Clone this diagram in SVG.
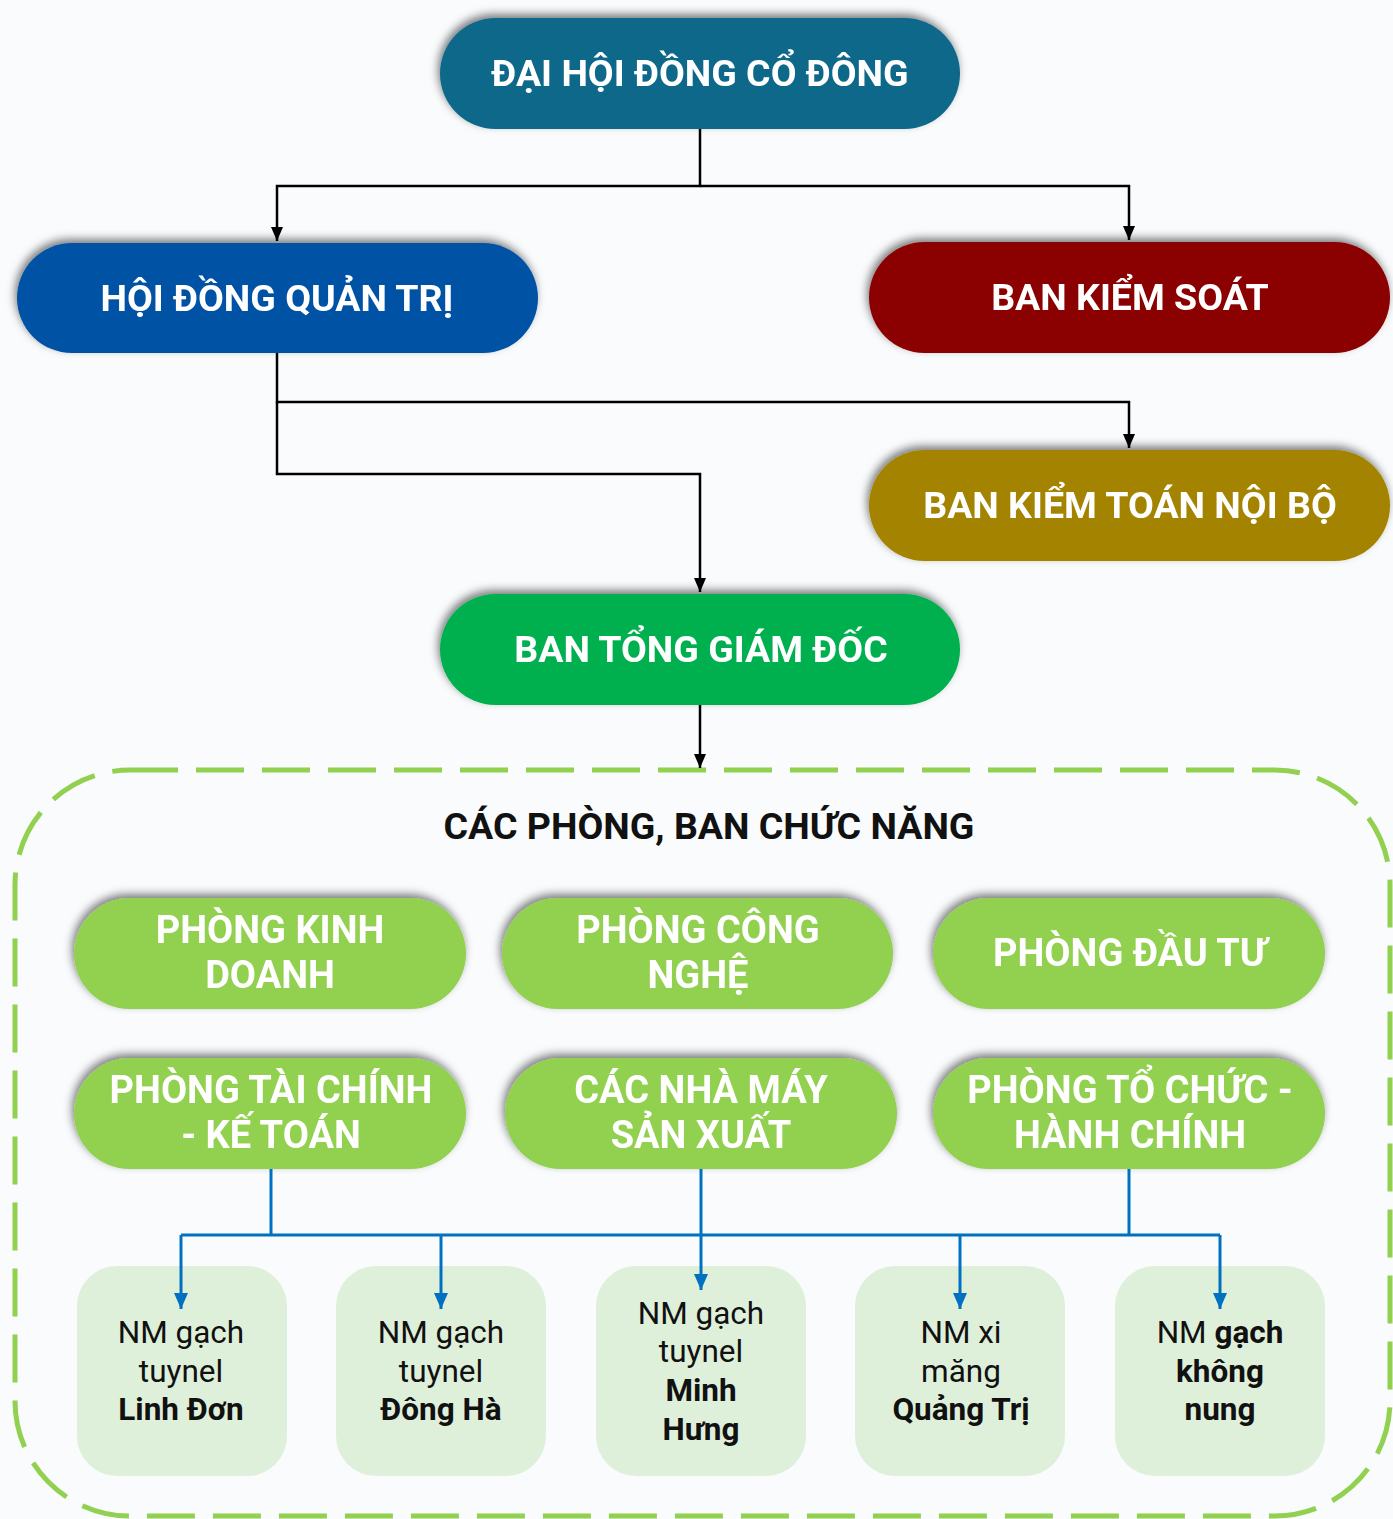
<svg xmlns="http://www.w3.org/2000/svg" width="1393" height="1519" viewBox="0 0 1393 1519">
<defs>
<filter id="sh" x="-10%" y="-30%" width="120%" height="160%">
<feDropShadow dx="-2" dy="-4" stdDeviation="4" flood-color="#000" flood-opacity="0.5"/>
</filter>
<marker id="ab" markerWidth="14" markerHeight="12" refX="14" refY="6" orient="auto" markerUnits="userSpaceOnUse" viewBox="0 0 14 12">
<path d="M0,0 L14,6 L0,12 Z" fill="#000"/>
</marker>
<marker id="ablue" markerWidth="16" markerHeight="14" refX="16" refY="7" orient="auto" markerUnits="userSpaceOnUse" viewBox="0 0 16 14">
<path d="M0,0 L16,7 L0,14 Z" fill="#0070c0"/>
</marker>
</defs>
<style>
.t{font-family:Roboto,"Liberation Sans",sans-serif;font-weight:700;fill:#fff;text-anchor:middle;}
.big{font-size:37.5px;}
.mid{font-size:38px;}
.s{font-family:Roboto,"Liberation Sans",sans-serif;font-size:31.5px;fill:#111;text-anchor:middle;}
.b{font-weight:700;}
.pill{filter:url(#sh);}
.g{fill:#92d050;}
.sm{fill:#dff0da;}
.blk{fill:none;stroke:#000;stroke-width:2.5;}
.blu{fill:none;stroke:#0070c0;stroke-width:3;}
</style>
<rect width="1393" height="1519" fill="#f9fbfd"/>

<g id="container">
<rect x="15" y="770" width="1375" height="746" rx="115" fill="none" stroke="#92d050" stroke-width="5" stroke-dasharray="48,18"/>
<text x="709" y="839" font-family="Roboto,'Liberation Sans',sans-serif" font-weight="700" font-size="37.5" fill="#111" text-anchor="middle">CÁC PHÒNG, BAN CHỨC NĂNG</text>
</g>

<g id="dhdcd" class="pill">
<rect x="440" y="18" width="520" height="111" rx="55.5" fill="#10678a"/>
<text class="t big" x="700" y="86">ĐẠI HỘI ĐỒNG CỔ ĐÔNG</text>
</g>
<g id="hdqt" class="pill">
<rect x="17" y="243" width="521" height="110" rx="55" fill="#0353a4"/>
<text class="t big" x="277" y="311">HỘI ĐỒNG QUẢN TRỊ</text>
</g>
<g id="bks" class="pill">
<rect x="869" y="242" width="521" height="111" rx="55.5" fill="#8b0000"/>
<text class="t big" x="1130" y="310">BAN KIỂM SOÁT</text>
</g>
<g id="bktnb" class="pill">
<rect x="869" y="450" width="521" height="111" rx="55.5" fill="#a38300"/>
<text class="t big" x="1130" y="518">BAN KIỂM TOÁN NỘI BỘ</text>
</g>
<g id="btgd" class="pill">
<rect x="440" y="594" width="520" height="111" rx="55.5" fill="#00b050"/>
<text class="t big" x="701" y="662">BAN TỔNG GIÁM ĐỐC</text>
</g>

<g id="pkd" class="pill">
<rect class="g" x="74" y="898" width="392" height="111" rx="55.5"/>
<text class="t mid" x="270" y="943">PHÒNG KINH</text>
<text class="t mid" x="270" y="988">DOANH</text>
</g>
<g id="pcn" class="pill">
<rect class="g" x="502" y="898" width="391" height="111" rx="55.5"/>
<text class="t mid" x="698" y="943">PHÒNG CÔNG</text>
<text class="t mid" x="698" y="988">NGHỆ</text>
</g>
<g id="pdt" class="pill">
<rect class="g" x="933" y="898" width="392" height="111" rx="55.5"/>
<text class="t mid" x="1130" y="966">PHÒNG ĐẦU TƯ</text>
</g>
<g id="ptckt" class="pill">
<rect class="g" x="74" y="1058" width="392" height="111" rx="55.5"/>
<text class="t mid" x="271" y="1103">PHÒNG TÀI CHÍNH</text>
<text class="t mid" x="271" y="1148">- KẾ TOÁN</text>
</g>
<g id="cnmsx" class="pill">
<rect class="g" x="505" y="1058" width="392" height="111" rx="55.5"/>
<text class="t mid" x="701" y="1103">CÁC NHÀ MÁY</text>
<text class="t mid" x="701" y="1148">SẢN XUẤT</text>
</g>
<g id="ptchc" class="pill">
<rect class="g" x="933" y="1058" width="392" height="111" rx="55.5"/>
<text class="t mid" x="1130" y="1103">PHÒNG TỔ CHỨC -</text>
<text class="t mid" x="1130" y="1148">HÀNH CHÍNH</text>
</g>

<g id="nm1">
<rect class="sm" x="77" y="1266" width="210" height="210" rx="40"/>
<text class="s" x="181" y="1343">NM gạch</text>
<text class="s" x="181" y="1382">tuynel</text>
<text class="s b" x="181" y="1420">Linh Đơn</text>
</g>
<g id="nm2">
<rect class="sm" x="336" y="1266" width="210" height="210" rx="40"/>
<text class="s" x="441" y="1343">NM gạch</text>
<text class="s" x="441" y="1382">tuynel</text>
<text class="s b" x="441" y="1420">Đông Hà</text>
</g>
<g id="nm3">
<rect class="sm" x="596" y="1266" width="210" height="210" rx="40"/>
<text class="s" x="701" y="1324">NM gạch</text>
<text class="s" x="701" y="1362">tuynel</text>
<text class="s b" x="701" y="1401">Minh</text>
<text class="s b" x="701" y="1440">Hưng</text>
</g>
<g id="nm4">
<rect class="sm" x="855" y="1266" width="210" height="210" rx="40"/>
<text class="s" x="961" y="1343">NM xi</text>
<text class="s" x="961" y="1382">măng</text>
<text class="s b" x="961" y="1420">Quảng Trị</text>
</g>
<g id="nm5">
<rect class="sm" x="1115" y="1266" width="210" height="210" rx="40"/>
<text class="s" x="1220" y="1343">NM <tspan class="b">gạch</tspan></text>
<text class="s b" x="1220" y="1382">không</text>
<text class="s b" x="1220" y="1420">nung</text>
</g>

<g id="connectors">
<path class="blk" d="M700,129 V186 H277 V241" marker-end="url(#ab)"/>
<path class="blk" d="M700,186 H1129 V240" marker-end="url(#ab)"/>
<path class="blk" d="M277,353 V402 H1129 V448" marker-end="url(#ab)"/>
<path class="blk" d="M277,402 V474 H700 V592" marker-end="url(#ab)"/>
<path class="blk" d="M700,705 V768" marker-end="url(#ab)"/>
<path class="blu" d="M271,1169 V1235"/>
<path class="blu" d="M1129,1169 V1235"/>
<path class="blu" d="M181,1235 H1220"/>
<path class="blu" d="M181,1235 V1309" marker-end="url(#ablue)"/>
<path class="blu" d="M441,1235 V1309" marker-end="url(#ablue)"/>
<path class="blu" d="M701,1169 V1290" marker-end="url(#ablue)"/>
<path class="blu" d="M960,1235 V1309" marker-end="url(#ablue)"/>
<path class="blu" d="M1220,1235 V1309" marker-end="url(#ablue)"/>
</g>
</svg>
